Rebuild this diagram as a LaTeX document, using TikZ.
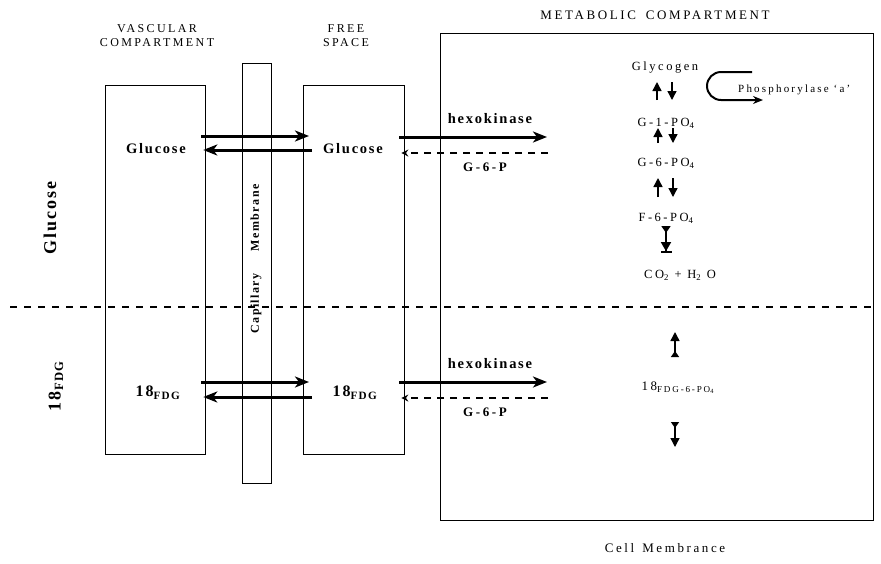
\documentclass[tikz,border=0pt]{standalone}
\usepackage{fontspec}
\setmainfont{Liberation Serif}
\newfontfamily\wide[LetterSpace=20]{Liberation Serif}
\newfontfamily\tight[LetterSpace=12]{Liberation Serif}
\usetikzlibrary{arrows.meta}

\begin{document}
\begin{tikzpicture}[x=1pt,y=-1pt,
    box/.style={draw,line width=1.3pt,anchor=north west,inner sep=0pt},
    head/.style={font=\wide\fontsize{12}{14}\selectfont,align=center},
    lab/.style={font=\tight\bfseries\fontsize{14.5}{16}\selectfont,inner sep=1pt},
    side/.style={font=\tight\bfseries\fontsize{18}{20}\selectfont,rotate=90},
    met/.style={font=\wide\fontsize{12.5}{14}\selectfont,inner sep=1pt},
    flow/.style={line width=3pt,-{Stealth[length=14pt,width=11pt,inset=4pt]}},
    back/.style={line width=1.4pt,dash pattern=on 7pt off 6pt,-{Stealth[length=7pt,width=7pt]}},
    divider/.style={line width=1.3pt,dash pattern=on 7pt off 7pt},
    metarr/.style={line width=1.4pt,-{Triangle[length=9pt,width=9pt]}},
    fdgarr/.style={line width=1.4pt,{Triangle[reversed,length=6pt,width=8pt]}-{Triangle[length=9pt,width=9pt]}},
    dblarr/.style={line width=1.4pt,{Triangle[reversed,length=7pt,width=9pt]}-{Triangle[length=9pt,width=10pt] Bar[width=11pt,line width=1.8pt]}},
    loopy/.style={line width=2pt,-{Stealth[length=10pt,width=8pt]}}]
  \useasboundingbox (0,0) rectangle (881,563);

  % compartments
  \node[box,minimum width=100pt,minimum height=369pt] (vasc) at (105,85) {};
  \node[box,minimum width=29pt,minimum height=420pt] (capil) at (242,63) {};
  \node[box,minimum width=101pt,minimum height=369pt] (free) at (303,85) {};
  \node[box,minimum width=433pt,minimum height=487pt] (meta) at (440,33) {};

  \node[head] (vascT) at (157,36) {VASCULAR\\COMPARTMENT};
  \node[head] (freeT) at (346,36) {FREE\\SPACE};
  \node[head,font=\wide\fontsize{13}{15}\selectfont] (metaT) at (655,15) {METABOLIC\hspace{10pt}COMPARTMENT};
  \node[font=\tight\bfseries\fontsize{12}{14}\selectfont,rotate=90] (capT) at (256,259) {Capillary\hspace{22pt}Membrane};

  % glucose / FDG split
  \coordinate (divL) at (10,307);
  \draw[divider] (divL) -- (divL -| meta.east);
  \node[side] (sideG) at (50,218) {Glucose};
  \node[side] (sideF) at (56,386) {18\textsubscript{FDG}};

  % transport across the capillary
  \node[lab] (gV) at (156,149) {Glucose};
  \node[lab] (gF) at (353,149) {Glucose};
  \node[lab,font=\tight\bfseries\fontsize{16}{18}\selectfont] (fV) at (158,393) {18\textsubscript{FDG}};
  \node[lab,font=\tight\bfseries\fontsize{16}{18}\selectfont] (fF) at (355,393) {18\textsubscript{FDG}};
  \draw[flow] ([xshift=-5pt,yshift=13pt]gV.center -| vasc.east) -- ([xshift=6pt,yshift=13pt]gV.center -| free.west);
  \draw[flow] ([xshift=9pt,yshift=-1pt]gV.center -| free.west) -- ([xshift=-3pt,yshift=-1pt]gV.center -| vasc.east);
  \draw[flow] ([xshift=-5pt,yshift=11pt]fV.center -| vasc.east) -- ([xshift=6pt,yshift=11pt]fV.center -| free.west);
  \draw[flow] ([xshift=9pt,yshift=-4pt]fV.center -| free.west) -- ([xshift=-3pt,yshift=-4pt]fV.center -| vasc.east);

  % phosphorylation into the cell
  \foreach \s/\y in {G/0,F/245}{
    \node[lab] (hexo\s) at (490,119+\y) {hexokinase};
    \node[lab,font=\wide\bfseries\fontsize{13}{15}\selectfont] (g6p\s) at (485,167+\y) {G-6-P};
    \coordinate (hk\s) at (547,137+\y);
    \coordinate (bk\s) at (548,153+\y);
    \draw[flow] ([xshift=-6pt]hk\s -| free.east) -- (hk\s);
    \draw[back] (bk\s) -- ([xshift=-4pt]bk\s -| free.east);
  }

  % metabolic pathway
  \node[met] (glyc) at (665,68) {Glycogen};
  \node[met] (g1p) at (666,123) {G-1-PO\textsubscript{4}};
  \node[met] (g6p) at (666,163) {G-6-PO\textsubscript{4}};
  \node[met] (f6p) at (666,218) {F-6-PO\textsubscript{4}};
  \node[met] (cow) at (680,275) {CO\textsubscript{2} + H\textsubscript{2} O};
  \foreach \n/\ya/\yb in {glyc/14/32,g1p/5/20,g6p/15/34}{
    \draw[metarr] ([xshift=-8pt,yshift=-\yb pt]\n.center) -- ([xshift=-8pt,yshift=-\ya pt]\n.center);
    \draw[metarr] ([xshift=7pt,yshift=-\ya pt]\n.center) -- ([xshift=7pt,yshift=-\yb pt]\n.center);
  }
  \draw[dblarr] ([yshift=-8pt]f6p.center) -- ([yshift=-35pt]f6p.center);

  \coordinate (phA) at (752,72);
  \coordinate (phB) at (763,100);
  \draw[loopy] (phA) -- (721,72) arc[start angle=270,end angle=90,radius=14] -- (phB);
  \node[met,font=\wide\fontsize{11}{13}\selectfont,anchor=west] (phos) at (737,90) {Phosphorylase ‘a’};

  \node[met,font=\wide\fontsize{13}{15}\selectfont] (fdgp) at (678,388) {18\textsubscript{FDG-6-PO\textsubscript{4}}};
  \draw[fdgarr] ([xshift=-3pt,yshift=31pt]fdgp.center) -- ([xshift=-3pt,yshift=56pt]fdgp.center);
  \draw[fdgarr] ([xshift=-3pt,yshift=-34pt]fdgp.center) -- ([xshift=-3pt,yshift=-59pt]fdgp.center);

  \node[met,font=\wide\fontsize{13}{15}\selectfont] (cellT) at (665,548) {Cell\hspace{8pt}Membrance};
\end{tikzpicture}
\end{document}
